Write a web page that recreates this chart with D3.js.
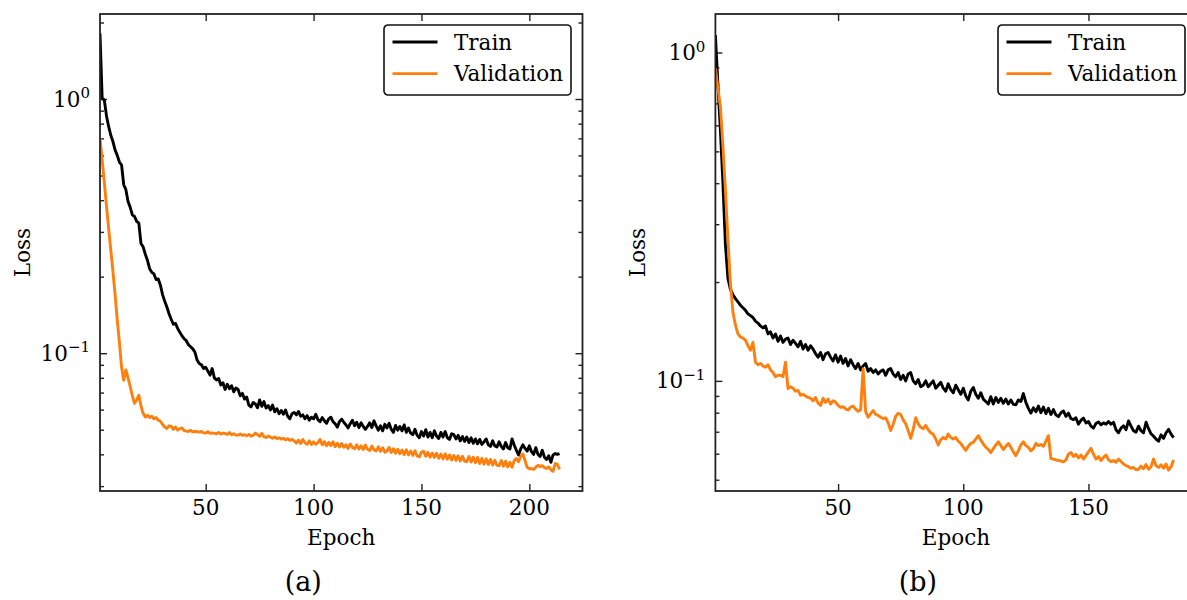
<!DOCTYPE html>
<html>
<head>
<meta charset="utf-8">
<script src="https://cdn.jsdelivr.net/npm/d3@7"></script>
<style>
  body { margin: 0; background: #fff; }
  svg { display: block; font-family: 'DejaVu Serif', serif; }
</style>
</head>
<body>
<div id="chart"></div>
<script>
// Panel (a) losses, one value per epoch starting at epoch 1
const trainLossA = [
    1.81, 1.01, 0.99, 0.86, 0.78, 0.72, 0.68, 0.63, 0.60, 0.565,
    0.55, 0.46, 0.44, 0.395, 0.375, 0.35, 0.345, 0.33, 0.325, 0.27,
    0.262, 0.245, 0.232, 0.215, 0.208, 0.205, 0.195, 0.196, 0.185, 0.17,
    0.16, 0.152, 0.143, 0.136, 0.13, 0.131, 0.125, 0.121, 0.117, 0.114,
    0.112, 0.108, 0.106, 0.104, 0.101, 0.094, 0.091, 0.090, 0.087, 0.088,
    0.085, 0.082, 0.087, 0.08, 0.0785, 0.0795, 0.075, 0.0765, 0.072, 0.0755,
    0.0725, 0.0745, 0.0705, 0.073, 0.072, 0.068, 0.0695, 0.066, 0.0672, 0.0625,
    0.0615, 0.064, 0.0632, 0.061, 0.0655, 0.0618, 0.0645, 0.0608, 0.0622, 0.0598,
    0.0625, 0.0588, 0.0605, 0.0578, 0.0595, 0.0575, 0.0598, 0.0565, 0.0552, 0.0578,
    0.0585, 0.0572, 0.059, 0.0565, 0.0572, 0.0552, 0.0568, 0.0545, 0.056, 0.0552,
    0.0575, 0.0548, 0.0538, 0.0558, 0.0542, 0.053, 0.0552, 0.056, 0.0538, 0.0528,
    0.0512, 0.0538, 0.055, 0.0535, 0.0522, 0.0508, 0.0528, 0.0545, 0.0518, 0.0535,
    0.051, 0.0532, 0.0515, 0.0502, 0.0515, 0.0532, 0.051, 0.0542, 0.0518, 0.0498,
    0.0518, 0.0495, 0.0525, 0.0508, 0.053, 0.0502, 0.0488, 0.052, 0.0498, 0.0515,
    0.0495, 0.0522, 0.0488, 0.0508, 0.0485, 0.0478, 0.0502, 0.0475, 0.0465, 0.0492,
    0.0472, 0.05, 0.0468, 0.0488, 0.0465, 0.0495, 0.0472, 0.0462, 0.0488, 0.0468,
    0.0492, 0.0465, 0.0458, 0.0482, 0.0478, 0.046, 0.0475, 0.0452, 0.047, 0.045,
    0.0468, 0.0445, 0.0465, 0.0442, 0.046, 0.044, 0.0458, 0.0438, 0.0448, 0.046,
    0.0436, 0.043, 0.0452, 0.0432, 0.0428, 0.0448, 0.043, 0.042, 0.0445, 0.0425,
    0.042, 0.046, 0.0435, 0.0415, 0.0398, 0.042, 0.0436, 0.0422, 0.0412, 0.0432,
    0.041, 0.04, 0.0425, 0.04, 0.0392, 0.0415, 0.039, 0.0382, 0.0395, 0.0372,
    0.0398, 0.0403, 0.04, 0.0403
];
const valLossA = [
    0.70, 0.58, 0.47, 0.38, 0.31, 0.255, 0.21, 0.17, 0.135, 0.11,
    0.088, 0.0783, 0.0859, 0.080, 0.0738, 0.068, 0.0635, 0.0655, 0.0683, 0.062,
    0.058, 0.0561, 0.057, 0.0558, 0.0565, 0.0552, 0.0558, 0.0545, 0.054, 0.0525,
    0.0512, 0.0506, 0.0518, 0.0515, 0.0502, 0.0512, 0.0498, 0.0505, 0.0508, 0.0496,
    0.0494, 0.0492, 0.0497, 0.049, 0.0493, 0.0491, 0.0489, 0.0492, 0.0486, 0.0485,
    0.0491, 0.0484, 0.0486, 0.0484, 0.0482, 0.0488, 0.0481, 0.0485, 0.0483, 0.0479,
    0.0487, 0.0478, 0.0482, 0.0476, 0.0476, 0.0481, 0.0475, 0.0478, 0.0473, 0.0479,
    0.0472, 0.0475, 0.0485, 0.0478, 0.0471, 0.0484, 0.0469, 0.0466, 0.0472, 0.0467,
    0.0463, 0.0468, 0.0461, 0.0465, 0.0459, 0.0463, 0.0456, 0.0461, 0.0454, 0.0458,
    0.0452, 0.0443, 0.0455, 0.0441, 0.0458, 0.0444, 0.0438, 0.0452, 0.0437, 0.0448,
    0.0438, 0.0445, 0.0458, 0.0436, 0.0449, 0.0432, 0.0446, 0.0433, 0.0448, 0.0429,
    0.0442, 0.0428, 0.0441, 0.0427, 0.0436, 0.0422, 0.0439, 0.0426, 0.0421, 0.0436,
    0.042, 0.0432, 0.0418, 0.0435, 0.0419, 0.0414, 0.0431, 0.0417, 0.0412, 0.0428,
    0.0411, 0.0425, 0.0408, 0.0412, 0.0426, 0.0407, 0.0421, 0.0404, 0.0419, 0.0402,
    0.0416, 0.0399, 0.0417, 0.0398, 0.0412, 0.0396, 0.0413, 0.0394, 0.0391, 0.0408,
    0.0411, 0.0393, 0.0408, 0.039, 0.0405, 0.0389, 0.0404, 0.0386, 0.0401, 0.0384,
    0.0402, 0.0383, 0.0398, 0.038, 0.0396, 0.0379, 0.0395, 0.0377, 0.0393, 0.0376,
    0.0374, 0.0392, 0.0373, 0.039, 0.0371, 0.0389, 0.0368, 0.0386, 0.0366, 0.0384,
    0.0365, 0.0382, 0.0363, 0.0379, 0.0362, 0.0361, 0.0378, 0.0359, 0.0376, 0.0357,
    0.0372, 0.0356, 0.0378, 0.0385, 0.0374, 0.0392, 0.0402, 0.0378, 0.0356, 0.0351,
    0.0352, 0.0349, 0.0356, 0.0362, 0.0358, 0.0361, 0.0355, 0.0352, 0.0357, 0.0348,
    0.0343, 0.0368, 0.0365, 0.0349
];

// Panel (b) losses
const trainLossB = [
    1.13, 0.80, 0.58, 0.40, 0.26, 0.205, 0.19, 0.183, 0.178, 0.174,
    0.17, 0.167, 0.164, 0.16, 0.158, 0.156, 0.152, 0.15, 0.147, 0.145,
    0.147, 0.139, 0.141, 0.135, 0.139, 0.132, 0.137, 0.131, 0.134, 0.135,
    0.129, 0.133, 0.13, 0.127, 0.132, 0.125, 0.129, 0.124, 0.128, 0.125,
    0.121, 0.118, 0.122, 0.116, 0.121, 0.122, 0.118, 0.115, 0.12, 0.114,
    0.119, 0.113, 0.117, 0.111, 0.116, 0.112, 0.109, 0.113, 0.108, 0.111,
    0.113, 0.107, 0.109, 0.106, 0.108, 0.105, 0.107, 0.108, 0.104, 0.108,
    0.109, 0.105, 0.103, 0.106, 0.101, 0.104, 0.1, 0.105, 0.106, 0.1,
    0.098, 0.101, 0.096, 0.097, 0.1, 0.096, 0.098, 0.1, 0.095, 0.097,
    0.099, 0.095, 0.093, 0.098, 0.094, 0.092, 0.097, 0.094, 0.091, 0.095,
    0.09, 0.0875, 0.093, 0.0955, 0.091, 0.0885, 0.092, 0.088, 0.0865, 0.085,
    0.0895, 0.085, 0.089, 0.086, 0.0885, 0.0855, 0.088, 0.085, 0.0875, 0.0848,
    0.0845, 0.0875, 0.0865, 0.0915, 0.086, 0.0825, 0.0798, 0.0828, 0.0805, 0.0838,
    0.08, 0.0832, 0.0795, 0.0825, 0.079, 0.0818, 0.0788, 0.0778, 0.08, 0.081,
    0.078, 0.0798, 0.0768, 0.0762, 0.0772, 0.0738, 0.0758, 0.077, 0.0745, 0.0752,
    0.0728, 0.0718, 0.0742, 0.075, 0.0735, 0.0745, 0.0738, 0.0752, 0.0738, 0.0748,
    0.071, 0.0695, 0.0718, 0.073, 0.071, 0.0755, 0.0728, 0.0705, 0.0698, 0.0728,
    0.0705, 0.0695, 0.0748, 0.0715, 0.069, 0.0678, 0.0665, 0.0655, 0.0685, 0.0668,
    0.0695, 0.0712, 0.0688, 0.0672
];
const valLossB = [
    0.896, 0.78, 0.684, 0.52, 0.38, 0.27, 0.198, 0.162, 0.148, 0.139,
    0.136, 0.135, 0.133, 0.128, 0.124, 0.131, 0.114, 0.112, 0.113, 0.111,
    0.11, 0.112, 0.108, 0.106, 0.103, 0.104, 0.104, 0.103, 0.114, 0.0947,
    0.096, 0.095, 0.093, 0.0935, 0.0904, 0.091, 0.09, 0.089, 0.0886, 0.087,
    0.089, 0.0855, 0.0842, 0.0885, 0.086, 0.088, 0.085, 0.087, 0.0862, 0.0842,
    0.083, 0.0835, 0.0822, 0.0815, 0.0832, 0.0838, 0.082, 0.0808, 0.0815, 0.109,
    0.0806, 0.0775, 0.0795, 0.0812, 0.079, 0.0785, 0.0775, 0.0768, 0.0772, 0.0745,
    0.0706, 0.0738, 0.078, 0.0797, 0.079, 0.076, 0.074, 0.0705, 0.0668, 0.0712,
    0.0772, 0.074, 0.0722, 0.0715, 0.0732, 0.071, 0.0695, 0.0688, 0.0665, 0.0638,
    0.0662, 0.0672, 0.0665, 0.0689, 0.0672, 0.0665, 0.0672, 0.0655, 0.0645, 0.0628,
    0.0614, 0.0632, 0.0645, 0.065, 0.0665, 0.0681, 0.066, 0.0642, 0.0628, 0.0618,
    0.0605, 0.0622, 0.0638, 0.0652, 0.0635, 0.0618, 0.0632, 0.0645, 0.0628, 0.0608,
    0.0592, 0.0612, 0.0638, 0.0652, 0.0635, 0.0628, 0.0612, 0.0622, 0.0645, 0.0635,
    0.064, 0.0632, 0.0655, 0.0681, 0.058, 0.0578, 0.0575, 0.0572, 0.057, 0.0567,
    0.0575, 0.0598, 0.0605, 0.0588, 0.0598, 0.0582, 0.0595, 0.0578, 0.0592, 0.0608,
    0.0623, 0.0598, 0.0578, 0.0588, 0.0572, 0.0585, 0.0595, 0.0575, 0.0568, 0.0572,
    0.0565, 0.0578, 0.0568, 0.0558, 0.0552, 0.0548, 0.0542, 0.0545, 0.0536, 0.0538,
    0.055, 0.054, 0.0556, 0.0538, 0.0548, 0.0578, 0.0552, 0.0545, 0.0555, 0.0542,
    0.0558, 0.0535, 0.0548, 0.0574
];

// Tick values and labels
const xTicksA = [50, 100, 150, 200];
const xTicksB = [50, 100, 150];
const yMajorTicks = [0.1, 1];
const yMajorExp = ['\u22121', '0'];
const seriesNames = ['Train', 'Validation'];
const seriesColors = ['#000000', '#ff7f0e'];

const W = 1187, H = 600;
const FONT = '21.5px';
const svg = d3.select('#chart').append('svg')
    .attr('width', W)
    .attr('height', H);

function drawPanel(cfg) {
    const { left, top, right, bottom } = cfg;
    const g = svg.append('g');

    const x = d3.scaleLinear().domain(cfg.xDomain).range([left, right]);
    const y = d3.scaleLog().domain(cfg.yDomain).range([bottom, top]);

    const clipId = 'clip-' + cfg.id;
    svg.append('clipPath').attr('id', clipId)
        .append('rect')
        .attr('x', left).attr('y', top)
        .attr('width', right - left).attr('height', bottom - top);

    // minor ticks from the log scale, majors removed
    const minor = y.ticks().filter(v => !yMajorTicks.some(m => Math.abs(m - v) < 1e-9));

    const styleAxis = sel => {
        sel.select('.domain').remove();
        sel.selectAll('line').attr('stroke', '#222').attr('stroke-width', 1.4);
    };

    // x ticks, inward on bottom and top
    g.append('g').attr('transform', `translate(0,${bottom})`)
        .call(d3.axisBottom(x).tickValues(cfg.xTicks).tickSizeInner(-7).tickSizeOuter(0).tickFormat(''))
        .call(styleAxis);
    g.append('g').attr('transform', `translate(0,${top})`)
        .call(d3.axisTop(x).tickValues(cfg.xTicks).tickSizeInner(-7).tickSizeOuter(0).tickFormat(''))
        .call(styleAxis);

    // y ticks, major and minor, inward on left and right
    [[d3.axisLeft, left], [d3.axisRight, right]].forEach(([axisFn, pos]) => {
        g.append('g').attr('transform', `translate(${pos},0)`)
            .call(axisFn(y).tickValues(yMajorTicks).tickSizeInner(-7).tickSizeOuter(0).tickFormat(''))
            .call(styleAxis);
        g.append('g').attr('transform', `translate(${pos},0)`)
            .call(axisFn(y).tickValues(minor).tickSizeInner(-4).tickSizeOuter(0).tickFormat(''))
            .call(styleAxis);
    });

    // lines
    const line = d3.line()
        .x(d => x(d[0]))
        .y(d => y(d[1]));

    [cfg.train, cfg.val].forEach((vals, i) => {
        g.append('path')
            .datum(vals.map((v, k) => [k + 1, v]))
            .attr('clip-path', `url(#${clipId})`)
            .attr('fill', 'none')
            .attr('stroke', seriesColors[i])
            .attr('stroke-width', 2.9)
            .attr('stroke-linejoin', 'round')
            .attr('d', line);
    });

    // frame
    g.append('rect')
        .attr('x', left).attr('y', top)
        .attr('width', right - left).attr('height', bottom - top)
        .attr('fill', 'none')
        .attr('stroke', '#222')
        .attr('stroke-width', 1.8);

    // x tick labels
    g.selectAll('.xlab')
        .data(cfg.xTicks)
        .join('text')
        .attr('x', d => x(d))
        .attr('y', bottom + 24)
        .attr('text-anchor', 'middle')
        .style('font-size', FONT)
        .text(d => d);

    // y tick labels as 10 with superscript
    yMajorTicks.forEach((v, i) => {
        const t = g.append('text')
            .attr('x', left - 10)
            .attr('y', y(v) + 7.5)
            .attr('text-anchor', 'end')
            .style('font-size', FONT);
        t.append('tspan').text('10');
        t.append('tspan').attr('dy', -8.5).style('font-size', '15px').text(yMajorExp[i]);
    });

    // axis titles
    const cx = (left + right) / 2;
    g.append('text')
        .attr('x', cx)
        .attr('y', bottom + 54)
        .attr('text-anchor', 'middle')
        .style('font-size', FONT)
        .text('Epoch');

    g.append('text')
        .attr('transform', `translate(${left - 78},${(top + bottom) / 2}) rotate(-90)`)
        .attr('dy', '0.35em')
        .attr('text-anchor', 'middle')
        .style('font-size', FONT)
        .text('Loss');

    g.append('text')
        .attr('x', cx - 38)
        .attr('y', bottom + 100)
        .attr('text-anchor', 'middle')
        .style('font-size', '27px')
        .text(cfg.caption);

    // legend, upper right
    const lw = 187, lh = 70;
    const lx = right - 11.5 - lw, ly = top + 11;
    const legend = g.append('g').attr('transform', `translate(${lx},${ly})`);
    legend.append('rect')
        .attr('width', lw).attr('height', lh)
        .attr('rx', 4)
        .attr('fill', '#fff')
        .attr('stroke', '#111')
        .attr('stroke-width', 1.6);
    seriesNames.forEach((name, i) => {
        const yy = 17 + i * 31.6;
        legend.append('line')
            .attr('x1', 8.5).attr('x2', 53.5)
            .attr('y1', yy).attr('y2', yy)
            .attr('stroke', seriesColors[i])
            .attr('stroke-width', 2.9);
        legend.append('text')
            .attr('x', 70)
            .attr('y', yy + 7.8)
            .style('font-size', FONT)
            .text(name);
    });
}

drawPanel({
    id: 'a', left: 100, top: 14, right: 582.5, bottom: 491,
    xDomain: [1, 224.65], yDomain: [0.0287, 2.16],
    xTicks: xTicksA, train: trainLossA, val: valLossA, caption: '(a)'
});

drawPanel({
    id: 'b', left: 715.4, top: 14, right: 1196.5, bottom: 491,
    xDomain: [1, 193.15], yDomain: [0.0462, 1.31],
    xTicks: xTicksB, train: trainLossB, val: valLossB, caption: '(b)'
});
</script>
</body>
</html>
